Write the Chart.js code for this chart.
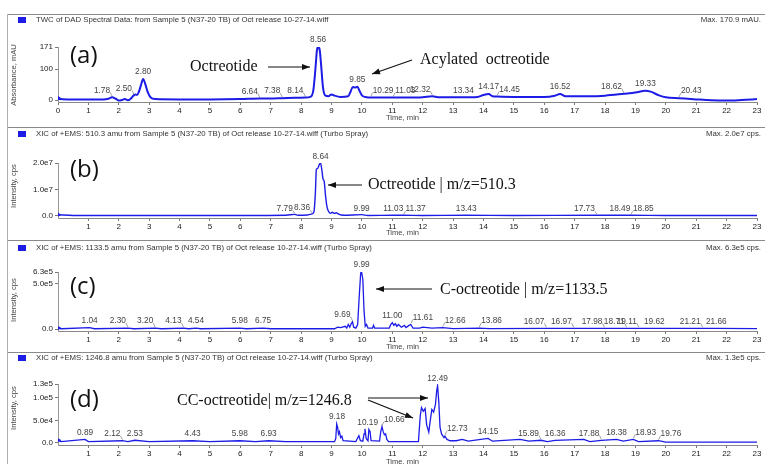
<!DOCTYPE html>
<html>
<head>
<meta charset="utf-8">
<script src="https://cdn.jsdelivr.net/npm/chart.js@4.4.1/dist/chart.umd.min.js"></script>
<style>
  body { margin: 0; background: #fff; width: 765px; height: 464px; overflow: hidden; position: relative; }
  canvas { position: absolute; left: 0; }
</style>
</head>
<body>
<canvas id="pa" width="765" height="113" style="top:14px;width:765px;height:113px"></canvas>
<canvas id="pb" width="765" height="113" style="top:127px;width:765px;height:113px"></canvas>
<canvas id="pc" width="765" height="112" style="top:240px;width:765px;height:112px"></canvas>
<canvas id="pd" width="765" height="112" style="top:352px;width:765px;height:112px"></canvas>
<script>
// ---- data: [time (min), signal] ----
const traceA = [[0,6],[0.05,3],[0.3,2],[1.0,2],[1.5,2],[1.65,4],[1.78,9],[1.9,4],[2.0,-2],[2.1,0],[2.2,3],[2.3,-1],[2.4,5],[2.48,14],[2.55,18],[2.6,16],[2.66,26],[2.73,48],[2.8,68],[2.87,52],[2.95,26],[3.05,8],[3.2,3],[4,2],[5,2],[6,3],[6.64,5],[7,5],[7.38,6],[7.8,7],[8.14,8],[8.3,10],[8.4,30],[8.47,100],[8.52,160],[8.56,171],[8.61,162],[8.66,110],[8.72,40],[8.8,14],[8.9,12],[9.0,18],[9.1,14],[9.3,10],[9.55,12],[9.62,25],[9.7,42],[9.78,40],[9.85,43],[9.92,30],[10.0,15],[10.15,9],[10.29,8],[11.03,8],[11.5,8],[12.0,9],[12.32,12],[12.5,9],[13,9],[13.34,9],[13.8,10],[14.0,16],[14.17,19],[14.3,12],[14.45,11],[15,10],[16,10],[16.35,14],[16.52,19],[16.7,12],[17,12],[17.5,12],[18,14],[18.62,20],[19.0,24],[19.33,30],[19.5,27],[19.8,14],[20.0,9],[20.43,6],[21,2],[21.5,-1],[22,-2],[22.5,0],[23,3]];

const traceB = [[0,0.05e7],[0.5,0.02e7],[2,0.02e7],[4,0.02e7],[6,0.02e7],[7.5,0.03e7],[7.79,0.06e7],[7.9,0.03e7],[8.2,0.04e7],[8.36,0.08e7],[8.42,0.15e7],[8.47,0.9e7],[8.5,1.75e7],[8.55,1.8e7],[8.6,1.95e7],[8.64,2.0e7],[8.68,1.75e7],[8.72,1.4e7],[8.76,1.3e7],[8.8,0.8e7],[8.85,0.35e7],[8.9,0.18e7],[8.97,0.1e7],[9.02,0.14e7],[9.1,0.1e7],[9.15,0.12e7],[9.25,0.06e7],[9.4,0.03e7],[9.99,0.05e7],[10.2,0.02e7],[11.03,0.03e7],[11.37,0.03e7],[12,0.02e7],[13.43,0.03e7],[15,0.02e7],[17.73,0.03e7],[18.49,0.03e7],[18.85,0.03e7],[20,0.02e7],[23,0.02e7]];

const traceC = [[0,1e4],[0.1,0.3e4],[1.04,1.5e4],[1.2,0.3e4],[2.30,1e4],[2.5,0.3e4],[3.20,1e4],[3.4,0.3e4],[4.13,1e4],[4.3,0.3e4],[4.54,1e4],[4.7,0.3e4],[5.98,1e4],[6.2,0.3e4],[6.75,1e4],[7,0.3e4],[9.1,0.3e4],[9.2,2e4],[9.3,1.5e4],[9.45,3e4],[9.5,1e4],[9.55,5e4],[9.6,2e4],[9.65,6e4],[9.69,8e4],[9.73,2e4],[9.8,1e4],[9.86,5e4],[9.91,3.5e5],[9.96,6.2e5],[9.99,6.3e5],[10.03,5.5e5],[10.07,2e5],[10.11,3e4],[10.15,5e4],[10.2,1e4],[10.35,1e4],[10.38,4e4],[10.42,1e4],[10.9,1e4],[10.95,5e4],[11.0,7e4],[11.05,4e4],[11.1,6e4],[11.15,3e4],[11.2,5e4],[11.3,2e4],[11.4,4e4],[11.45,1.5e4],[11.55,4e4],[11.61,5e4],[11.68,1e4],[11.9,1e4],[12.0,2e4],[12.3,1e4],[12.66,1.5e4],[13,0.5e4],[13.86,1e4],[14.2,0.4e4],[16.07,0.8e4],[16.97,0.8e4],[17.98,0.8e4],[18.71,0.8e4],[19.11,0.8e4],[19.62,0.8e4],[21.21,0.8e4],[21.66,0.8e4],[23,0.4e4]];

const traceD = [[0,0.6e4],[0.1,0.3e4],[0.89,0.8e4],[1,0.3e4],[2.12,0.5e4],[2.3,0.3e4],[2.53,0.6e4],[3,0.3e4],[4.43,0.5e4],[5,0.3e4],[5.98,0.5e4],[6.5,0.3e4],[6.93,0.5e4],[7.5,0.3e4],[9.1,0.3e4],[9.14,1e4],[9.17,4.2e4],[9.2,3.5e4],[9.23,2e4],[9.26,2.5e4],[9.3,1.2e4],[9.34,1.5e4],[9.38,0.5e4],[9.8,0.3e4],[9.85,1e4],[9.9,1.6e4],[9.95,0.5e4],[10.03,0.4e4],[10.07,2e4],[10.1,3.1e4],[10.14,1e4],[10.2,0.5e4],[10.23,3e4],[10.27,2.5e4],[10.3,0.5e4],[10.58,0.4e4],[10.62,2.5e4],[10.66,3.6e4],[10.7,2.5e4],[10.74,1.8e4],[10.78,2e4],[10.82,0.8e4],[10.88,0.3e4],[11.86,0.3e4],[11.92,6e4],[11.96,7.8e4],[12.02,7e4],[12.08,7.6e4],[12.13,4e4],[12.2,2.4e4],[12.25,5e4],[12.3,7.4e4],[12.36,6.8e4],[12.42,8.5e4],[12.46,1.15e5],[12.49,1.26e5],[12.53,9e4],[12.57,3.5e4],[12.62,2e4],[12.7,1.2e4],[12.73,1.5e4],[12.8,0.8e4],[12.9,0.5e4],[13.1,0.5e4],[13.3,0.8e4],[13.5,0.4e4],[14.15,1e4],[14.3,0.4e4],[15.2,0.8e4],[15.5,0.4e4],[15.89,0.6e4],[16.1,0.3e4],[16.36,0.6e4],[17.3,0.8e4],[17.5,0.3e4],[17.88,0.6e4],[18.38,0.8e4],[18.6,0.4e4],[18.93,0.8e4],[19.1,0.3e4],[19.76,0.5e4],[20,0.2e4],[23,0.2e4]];

// ---- tick labels ----
const xTicksA = [0,1,2,3,4,5,6,7,8,9,10,11,12,13,14,15,16,17,18,19,20,21,22,23];
const xTicksMS = [1,2,3,4,5,6,7,8,9,10,11,12,13,14,15,16,17,18,19,20,21,22,23];
const yTicksA = [0,100,171];      const yTextA = ['0','100','171'];
const yTicksB = [0,1e7,2e7];      const yTextB = ['0.0','1.0e7','2.0e7'];
const yTicksC = [0,5e5,6.3e5];    const yTextC = ['0.0','5.0e5','6.3e5'];
const yTicksD = [0,5e4,1e5,1.3e5]; const yTextD = ['0.0','5.0e4','1.0e5','1.3e5'];

// ---- peak labels (retention times) ----
const peaksA = ['1.78','2.50','2.80','6.64','7.38','8.14','8.56','9.85','10.29','11.03','12.32','13.34','14.17','14.45','16.52','18.62','19.33','20.43'];
const anchorA = ['r','r','c','r','r','r','c','c','l','l','r','c','c','l','c','r','c','l'];
const peaksB = ['7.79','8.36','8.64','9.99','11.03','11.37','13.43','17.73','18.49','18.85'];
const anchorB = ['r','r','c','c','c','l','c','r','c','l'];
const peaksC = ['1.04','2.30','3.20','4.13','4.54','5.98','6.75','9.69','9.99','11.00','11.61','12.66','13.86','16.07','16.97','17.98','18.71','19.11','19.62','21.21','21.66'];
const anchorC = ['c','r','r','r','c','c','c','r','c','c','l','l','l','r','r','r','r','r','c','r','c'];
const peaksD = ['0.89','2.12','2.53','4.43','5.98','6.93','9.18','10.19','10.66','12.49','12.73','14.15','15.89','16.36','17.88','18.38','18.93','19.76'];
const anchorD = ['c','r','c','c','c','c','c','c','l','c','l','c','r','c','r','c','l','l'];

const BLUE = '#1c1ce6';

function valueNear(trace, t) {
  let best = null;
  for (let i = 0; i < trace.length - 1; i++) {
    const [t0, v0] = trace[i], [t1, v1] = trace[i + 1];
    if (t >= t0 && t <= t1) best = v0 + (v1 - v0) * (t - t0) / (t1 - t0 || 1);
  }
  trace.forEach(p => { if (Math.abs(p[0] - t) < 0.045 && (best === null || p[1] > best)) best = p[1]; });
  return best === null ? 0 : best;
}

function arrow(ctx, x1, y1, x2, y2) {
  ctx.beginPath(); ctx.moveTo(x1, y1); ctx.lineTo(x2, y2); ctx.stroke();
  const a = Math.atan2(y2 - y1, x2 - x1), L = 8, W = 3;
  ctx.beginPath();
  ctx.moveTo(x2, y2);
  ctx.lineTo(x2 - L * Math.cos(a) + W * Math.sin(a), y2 - L * Math.sin(a) - W * Math.cos(a));
  ctx.lineTo(x2 - L * Math.cos(a) - W * Math.sin(a), y2 - L * Math.sin(a) + W * Math.cos(a));
  ctx.closePath(); ctx.fill();
}

const decor = {
  id: 'decor',
  afterDraw(chart) {
    const o = chart.options.plugins.decor, ctx = chart.ctx;
    const xs = chart.scales.x, ys = chart.scales.y;
    ctx.save();
    // frame
    ctx.strokeStyle = '#8a8a8a'; ctx.lineWidth = 2;
    ctx.beginPath(); ctx.moveTo(7, 0); ctx.lineTo(765, 0); ctx.stroke();
    ctx.lineWidth = 1; ctx.strokeStyle = '#b0b0b0';
    ctx.beginPath(); ctx.moveTo(7.5, 0); ctx.lineTo(7.5, chart.height); ctx.stroke();
    // header
    ctx.fillStyle = BLUE; ctx.fillRect(18, o.headY - 3, 8, 6);
    ctx.fillStyle = '#333'; ctx.font = '7.8px "Liberation Sans"'; ctx.textBaseline = 'middle';
    ctx.textAlign = 'left'; ctx.fillText(o.header, 36, o.headY);
    ctx.textAlign = 'right'; ctx.fillText(o.max, 761, o.headY);
    // axis titles
    ctx.font = '7.6px "Liberation Sans"'; ctx.fillStyle = '#444';
    ctx.textAlign = 'left'; ctx.fillText('Time, min', 386, o.timeY);
    ctx.save(); ctx.translate(14, o.yTitleY); ctx.rotate(-Math.PI / 2);
    ctx.textAlign = 'center'; ctx.fillText(o.yTitle, 0, 0); ctx.restore();
    // peak labels
    ctx.font = '8.3px "Liberation Sans"'; ctx.fillStyle = '#444'; ctx.strokeStyle = '#777'; ctx.lineWidth = 0.7;
    o.peaks.forEach((lab, i) => {
      const t = parseFloat(lab), px = xs.getPixelForValue(t);
      const py = ys.getPixelForValue(valueNear(o.trace, t));
      const ty = py - o.lift, an = o.anchors[i];
      if (an === 'c') { ctx.textAlign = 'center'; ctx.fillText(lab, px, ty); }
      else {
        const tx = an === 'r' ? px - 2 : px + 2;
        ctx.textAlign = an === 'r' ? 'right' : 'left';
        ctx.fillText(lab, tx, ty);
        ctx.beginPath(); ctx.moveTo(tx, ty + 2); ctx.lineTo(px, py - 1); ctx.stroke();
      }
    });
    // panel letter
    ctx.fillStyle = '#111'; ctx.font = '24px "Open Sans"'; ctx.textAlign = 'left';
    ctx.fillText(o.letter, 70, o.letterY);
    // annotations
    ctx.font = '16px "Liberation Serif"'; ctx.fillStyle = '#111'; ctx.strokeStyle = '#111'; ctx.lineWidth = 1.2;
    o.notes.forEach(n => ctx.fillText(n[0], n[1], n[2]));
    o.arrows.forEach(a => arrow(ctx, a[0], a[1], a[2], a[3]));
    ctx.restore();
  }
};

function panel(id, trace, cfg) {
  return new Chart(document.getElementById(id), {
    type: 'line',
    data: {
      datasets: [{
        data: trace.map(p => ({ x: p[0], y: p[1] })),
        borderColor: BLUE, borderWidth: cfg.lw, fill: false,
        cubicInterpolationMode: cfg.smooth ? 'monotone' : 'default', tension: 0,
        pointRadius: c => c.dataIndex === 0 ? 3.5 : 0,
        pointStyle: 'triangle', rotation: 90,
        pointBackgroundColor: BLUE, pointBorderWidth: 0
      }]
    },
    options: {
      responsive: false, animation: false, events: [],
      layout: { padding: { left: 18, right: 8, top: cfg.top, bottom: 0 } },
      plugins: { legend: { display: false }, tooltip: { enabled: false }, decor: cfg.decor },
      scales: {
        x: {
          type: 'linear', min: 0, max: 23,
          afterFit: s => { s.height = cfg.xh; },
          afterBuildTicks: s => { s.ticks = cfg.xTicks.map(v => ({ value: v })); },
          ticks: { autoSkip: false, maxRotation: 0, padding: 1, color: '#222', font: { family: 'Liberation Sans', size: 8 } },
          grid: { drawOnChartArea: false, tickLength: 3, color: '#777' },
          border: { color: '#888' }
        },
        y: {
          min: cfg.ymin, max: cfg.ymax,
          afterFit: s => { s.width = 40; },
          afterBuildTicks: s => { s.ticks = cfg.yTicks.map(v => ({ value: v })); },
          ticks: { autoSkip: false, padding: 2, color: '#222', font: { family: 'Liberation Sans', size: 8 },
                   callback: (v, i) => cfg.yText[i] },
          grid: { drawOnChartArea: false, tickLength: 3, color: '#777' },
          border: { color: '#999' }
        }
      }
    },
    plugins: [decor]
  });
}

panel('pa', traceA, {
  lw: 2, smooth: true, top: 33, xh: 25, ymin: -6.45, ymax: 171, xTicks: xTicksA, yTicks: yTicksA, yText: yTextA,
  decor: {
    headY: 6, header: 'TWC of DAD Spectral Data: from Sample 5 (N37-20 TB) of Oct release 10-27-14.wiff', max: 'Max. 170.9 mAU.',
    timeY: 104, yTitle: 'Absorbance, mAU', yTitleY: 61, trace: traceA, peaks: peaksA, anchors: anchorA, lift: 7,
    letter: '(a)', letterY: 42,
    notes: [['Octreotide', 190, 53], ['Acylated  octreotide', 420, 46]],
    arrows: [[268, 53, 310, 53], [412, 46, 372, 60]]
  }
});
panel('pb', traceB, {
  lw: 1.4, smooth: true, top: 36, xh: 22, ymin: -7.55e5, ymax: 2e7, xTicks: xTicksMS, yTicks: yTicksB, yText: yTextB,
  decor: {
    headY: 7, header: 'XIC of +EMS: 510.3 amu from Sample 5 (N37-20 TB) of Oct release 10-27-14.wiff (Turbo Spray)', max: 'Max. 2.0e7 cps.',
    timeY: 106, yTitle: 'Intensity, cps', yTitleY: 59, trace: traceB, peaks: peaksB, anchors: anchorB, lift: 6,
    letter: '(b)', letterY: 43,
    notes: [['Octreotide | m/z=510.3', 368, 58]],
    arrows: [[362, 58, 328, 58]]
  }
});
panel('pc', traceC, {
  lw: 1.3, smooth: false, top: 32, xh: 21, ymin: -2.21e4, ymax: 6.3e5, xTicks: xTicksMS, yTicks: yTicksC, yText: yTextC,
  decor: {
    headY: 8, header: 'XIC of +EMS: 1133.5 amu from Sample 5 (N37-20 TB) of Oct release 10-27-14.wiff (Turbo Spray)', max: 'Max. 6.3e5 cps.',
    timeY: 107, yTitle: 'Intensity, cps', yTitleY: 60, trace: traceC, peaks: peaksC, anchors: anchorC, lift: 7,
    letter: '(c)', letterY: 47,
    notes: [['C-octreotide | m/z=1133.5', 440, 50]],
    arrows: [[432, 49, 376, 49]]
  }
});
panel('pd', traceD, {
  lw: 1.3, smooth: false, top: 32, xh: 19, ymin: -4407, ymax: 1.3e5, xTicks: xTicksMS, yTicks: yTicksD, yText: yTextD,
  decor: {
    headY: 6, header: 'XIC of +EMS: 1246.8 amu from Sample 5 (N37-20 TB) of Oct release 10-27-14.wiff (Turbo Spray)', max: 'Max. 1.3e5 cps.',
    timeY: 110, yTitle: 'Intensity, cps', yTitleY: 56, trace: traceD, peaks: peaksD, anchors: anchorD, lift: 7,
    letter: '(d)', letterY: 48,
    notes: [['CC-octreotide| m/z=1246.8', 177, 49]],
    arrows: [[368, 46, 428, 46], [368, 48, 413, 66]]
  }
});
</script>
</body>
</html>
